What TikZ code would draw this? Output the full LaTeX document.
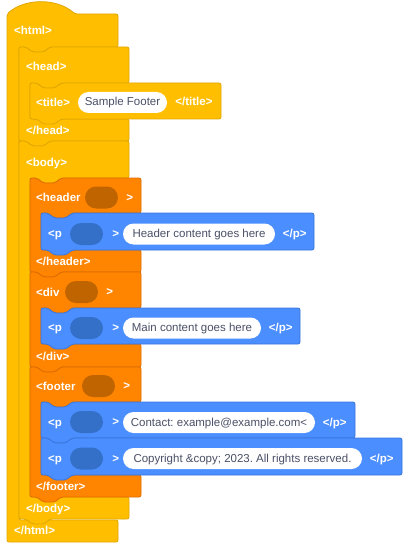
\documentclass[tikz,border=0pt]{standalone}
\usepackage{fontspec}
\setmainfont{Liberation Sans}
\usetikzlibrary{positioning}
\frenchspacing

\definecolor{htmlyellow}{HTML}{FFBF00}
\definecolor{htmlyellowline}{HTML}{E0A600}
\definecolor{tagorange}{HTML}{FF8400}
\definecolor{tagorangeline}{HTML}{DC6C00}
\definecolor{slotorange}{HTML}{C06400}
\definecolor{pblue}{HTML}{4A8EFF}
\definecolor{pblueline}{HTML}{3A76DC}
\definecolor{slotblue}{HTML}{3570C8}
\definecolor{fieldgrey}{HTML}{4A5066}

% statement block: style, left, top, right, bottom
\newcommand{\stmtblock}[5]{%
  \draw[#1] (#2,#3) -- (#2+7,#3) -- ++(6,5) -- ++(12,0) -- ++(6,-5)
    -- (#4,#3) -- (#4,#5) -- (#2+31,#5) -- ++(-6,5) -- ++(-12,0)
    -- ++(-6,-5) -- (#2,#5) -- cycle;}

% c-shaped block: style, left, top, right, row bottom, inner x, arm top, bottom
\newcommand{\cblock}[8]{%
  \draw[#1] (#2,#3) -- (#2+7,#3) -- ++(6,5) -- ++(12,0) -- ++(6,-5)
    -- (#4,#3) -- (#4,#5) -- (#6+31,#5) -- ++(-6,5) -- ++(-12,0)
    -- ++(-6,-5) -- (#6,#5) -- (#6,#7) -- (#4,#7) -- (#4,#8)
    -- (#2+31,#8) -- ++(-6,5) -- ++(-12,0) -- ++(-6,-5) -- (#2,#8) -- cycle;}

\begin{document}
\begin{tikzpicture}[
    x=1pt, y=-1pt,
    yblock/.style={fill=htmlyellow, draw=htmlyellowline, line width=0.8pt, rounded corners=2pt},
    oblock/.style={fill=tagorange, draw=tagorangeline, line width=0.8pt, rounded corners=2pt},
    bblock/.style={fill=pblue, draw=pblueline, line width=0.8pt, rounded corners=2pt},
    tag/.style={text=white, font=\fontsize{11.5}{13}\selectfont\bfseries, inner sep=0pt, anchor=west, text height=9pt, text depth=2pt},
    field/.style={fill=white, rounded corners=10.5pt, minimum height=21pt, inner sep=0pt, text=fieldgrey, font=\fontsize{11.5}{13}\selectfont, text height=9pt, text depth=2pt},
    oslot/.style={fill=slotorange, minimum width=33pt, minimum height=22pt, rounded corners=11pt, inner sep=0pt},
    bslot/.style={fill=slotblue, minimum width=33pt, minimum height=22pt, rounded corners=11pt, inner sep=0pt}
]
\useasboundingbox (0,0) rectangle (408,548);

% Blocks
\draw[yblock] (7,14) .. controls (25,-2) and (57,-2) .. (75,14) -- (118,14) -- (118,47)
  -- (50,47) -- ++(-6,5) -- ++(-12,0) -- ++(-6,-5) -- (19,47) -- (19,520)
  -- (118,520) -- (118,542) -- (7,542) -- cycle;
\cblock{yblock}{19}{47}{129}{83}{30}{119}{141}
\stmtblock{yblock}{30}{83}{221}{119}
\cblock{yblock}{19}{141}{129}{178}{30}{497}{519}
\cblock{oblock}{30}{178}{141}{213}{41}{250}{272}
\stmtblock{bblock}{41}{213}{314}{250}
\cblock{oblock}{30}{272}{141}{308}{41}{344}{367}
\stmtblock{bblock}{41}{308}{300}{344}
\cblock{oblock}{30}{367}{141}{402}{41}{475}{497}
\stmtblock{bblock}{41}{402}{355}{438}
\stmtblock{bblock}{41}{438}{402}{475}

% Nodes
\node[tag] (htmlopen) at (14,31) {<html>};
\node[tag] (headopen) at (26,67) {<head>};
\node[tag] (titleopen) at (36,103) {<title>};
\node[field, minimum width=89pt] (titletext) at (122.5,102.5) {Sample Footer};
\node[tag, right=8pt of titletext] (titleclose) {</title>};
\node[tag] (headclose) at (26,131) {</head>};
\node[tag] (bodyopen) at (26,163) {<body>};

\node[tag] (headeropen) at (36,198) {<header};
\node[oslot] (headerslot) at (101.5,197.5) {};
\node[tag, right=8pt of headerslot] (headergt) {>};
\node[tag] (hpopen) at (48,234) {<p};
\node[bslot] (hpslot) at (86.5,234) {};
\node[tag, right=9pt of hpslot] (hpgt) {>};
\node[field, minimum width=152pt] (hptext) at (199,234) {Header content goes here};
\node[tag, right=7.5pt of hptext] (hpclose) {</p>};
\node[tag] (headerclose) at (36,262) {</header>};

\node[tag] (divopen) at (36,293) {<div};
\node[oslot] (divslot) at (81.5,292) {};
\node[tag, right=8pt of divslot] (divgt) {>};
\node[tag] (dpopen) at (48,328) {<p};
\node[bslot] (dpslot) at (86.5,328) {};
\node[tag, right=9pt of dpslot] (dpgt) {>};
\node[field, minimum width=138pt] (dptext) at (192,328) {Main content goes here};
\node[tag, right=7.5pt of dptext] (dpclose) {</p>};
\node[tag] (divclose) at (36,357) {</div>};

\node[tag] (footeropen) at (36,387) {<footer};
\node[oslot] (footerslot) at (98.5,386) {};
\node[tag, right=8pt of footerslot] (footergt) {>};
\node[tag] (fpaopen) at (48,423) {<p};
\node[bslot] (fpaslot) at (86.5,422) {};
\node[tag, right=9pt of fpaslot] (fpagt) {>};
\node[field, minimum width=192pt] (fpatext) at (219,422.5) {Contact: example@example.com<};
\node[tag, right=7.5pt of fpatext] (fpaclose) {</p>};
\node[tag] (fpbopen) at (48,459) {<p};
\node[bslot] (fpbslot) at (86.5,458.5) {};
\node[tag, right=9pt of fpbslot] (fpbgt) {>};
\node[field, minimum width=239pt] (fpbtext) at (242.5,458.5) {Copyright \&copy; 2023. All rights reserved.};
\node[tag, right=7.5pt of fpbtext] (fpbclose) {</p>};
\node[tag] (footerclose) at (36,487) {</footer>};

\node[tag] (bodyclose) at (26,509) {</body>};
\node[tag] (htmlclose) at (14,531) {</html>};

\end{tikzpicture}
\end{document}
